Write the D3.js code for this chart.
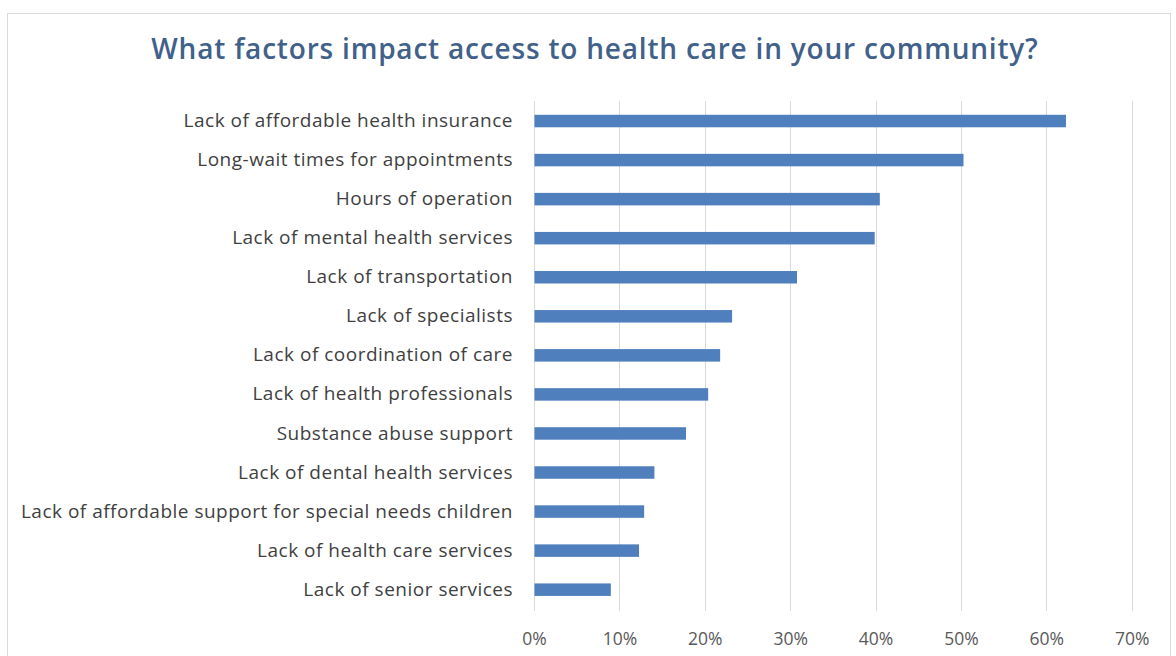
<!DOCTYPE html>
<html>
<head>
<meta charset="utf-8">
<script src="https://cdn.jsdelivr.net/npm/d3@7"></script>
<style>
  html, body { margin: 0; padding: 0; background: #fff; }
  svg { display: block; }
</style>
</head>
<body>
<svg id="chart" width="1176" height="656"></svg>
<script>
// Survey responses: share of respondents naming each factor
const categories = [
  "Lack of affordable health insurance",
  "Long-wait times for appointments",
  "Hours of operation",
  "Lack of mental health services",
  "Lack of transportation",
  "Lack of specialists",
  "Lack of coordination of care",
  "Lack of health professionals",
  "Substance abuse support",
  "Lack of dental health services",
  "Lack of affordable support for special needs children",
  "Lack of health care services",
  "Lack of senior services"
];
const values = [0.623, 0.503, 0.405, 0.399, 0.308, 0.232, 0.218, 0.204, 0.178, 0.141, 0.129, 0.123, 0.090];
const tickValues = [0, 0.1, 0.2, 0.3, 0.4, 0.5, 0.6, 0.7];
const title = "What factors impact access to health care in your community?";

const svg = d3.select("#chart");
const font = "'Open Sans', 'Noto Sans', sans-serif";

// chart frame
svg.append("rect")
  .attr("x", 7.5).attr("y", 13.5)
  .attr("width", 1163).attr("height", 700)
  .attr("fill", "#fff")
  .attr("stroke", "#d9d9d9")
  .attr("stroke-width", 1);

const x = d3.scaleLinear().domain([0, 0.7]).range([534, 1131.7]);
const y = d3.scaleBand().domain(categories).range([101.5, 609.2]).paddingInner(0.68).paddingOuter(0.34);

// title
svg.append("text")
  .attr("x", 595).attr("y", 59)
  .attr("text-anchor", "middle")
  .attr("font-family", font)
  .attr("font-weight", 600)
  .attr("font-size", 28)
  .attr("letter-spacing", 0.8)
  .attr("fill", "#41618a")
  .text(title);

// vertical gridlines
svg.append("g")
  .selectAll("line")
  .data(tickValues)
  .join("line")
  .attr("x1", d => Math.round(x(d)) + 0.5)
  .attr("x2", d => Math.round(x(d)) + 0.5)
  .attr("y1", 101)
  .attr("y2", 611)
  .attr("stroke", "#d9d9d9")
  .attr("stroke-width", 1);

// bottom axis labels
const xAxis = d3.axisBottom(x)
  .tickValues(tickValues)
  .tickFormat(d3.format(".0%"))
  .tickSize(0)
  .tickPadding(0);

const gx = svg.append("g")
  .attr("transform", "translate(0,645)")
  .call(xAxis);
gx.select(".domain").remove();
gx.selectAll("text")
  .attr("font-family", font)
  .attr("font-size", 17.5)
  .attr("fill", "#595959")
  .attr("dy", 0);

// category labels
const yAxis = d3.axisLeft(y).tickSize(0).tickPadding(21);
const gy = svg.append("g")
  .attr("transform", `translate(${x(0)},0)`)
  .call(yAxis);
gy.select(".domain").remove();
gy.selectAll("text")
  .attr("font-family", font)
  .attr("font-size", 19)
  .attr("letter-spacing", 0.5)
  .attr("fill", "#3f3f3f");

// bars
svg.append("g")
  .selectAll("rect")
  .data(categories.map((c, i) => ({ c, v: values[i] })))
  .join("rect")
  .attr("x", x(0) + 0.5)
  .attr("y", d => y(d.c))
  .attr("width", d => x(d.v) - x(0) - 0.5)
  .attr("height", y.bandwidth())
  .attr("fill", "#4f7fbd");
</script>
</body>
</html>
